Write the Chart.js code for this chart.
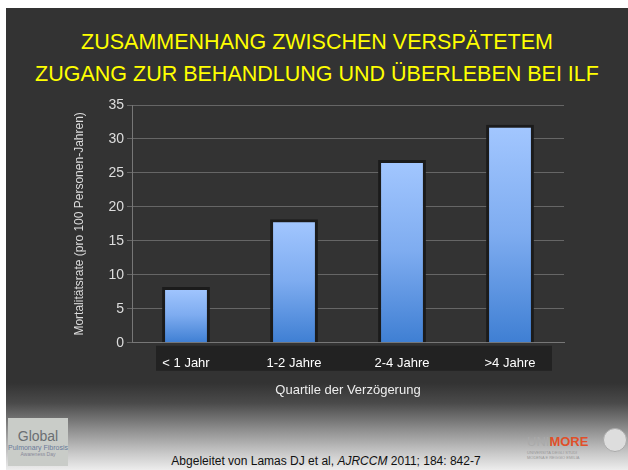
<!DOCTYPE html>
<html>
<head>
<meta charset="utf-8">
<script src="https://cdn.jsdelivr.net/npm/chart.js@4.4.1/dist/chart.umd.min.js"></script>
<style>
  html, body { margin: 0; padding: 0; background: #fff; }
  #slide {
    position: absolute; left: 6px; top: 8px; width: 622px; height: 462px; overflow: hidden;
    background: linear-gradient(to bottom, #333 0px, #333 375px, #4a4a4a 395px, #8a8a8a 420px, #c8c8c8 445px, #ededed 462px);
  }
  #title {
    position: absolute; left: 0; top: 18px; width: 622px; text-align: center;
    color: #ffff00; font-family: "Liberation Sans", Arial, sans-serif; font-size: 21.5px; line-height: 32px;
  }
  #chartBox { position: absolute; left: 0; top: 0; width: 628px; height: 470px; }
  #cite {
    position: absolute; left: 0; top: 446px; width: 640px; text-align: center;
    font-family: "Liberation Sans", Arial, sans-serif; font-size: 12px; color: #111;
  }
  #logoL {
    position: absolute; left: 2px; top: 410px; width: 60px; height: 48px;
    background: #c9ccc8; font-family: "Liberation Sans", Arial, sans-serif; text-align: center; color: #667;
  }
  #logoR { position: absolute; left: 521px; top: 424px; font-family: "Liberation Sans", Arial, sans-serif; }
</style>
</head>
<body>
<div id="slide">
  <div id="title">ZUSAMMENHANG ZWISCHEN VERSPÄTETEM<br>ZUGANG ZUR BEHANDLUNG UND ÜBERLEBEN BEI ILF</div>
  <div id="logoL">
    <div style="font-size:14px;margin-top:10px;color:#6b6f73">Global</div>
    <div style="font-size:7px;color:#6a7a99">Pulmonary Fibrosis</div>
    <div style="font-size:5px;color:#889">Awareness Day</div>
  </div>
  <div id="logoR">
    <span style="font-size:13px;color:#aaa">UNI</span><span style="font-size:13px;color:#e0502a;font-weight:bold">MORE</span>
    <div style="font-size:4px;color:#999;line-height:5px">UNIVERSITÀ DEGLI STUDI<br>MODENA E REGGIO EMILIA</div>
    <div style="position:absolute;left:76px;top:-4px;width:22px;height:22px;border-radius:50%;border:1px solid #aaa;background:#ddd"></div>
  </div>
  <div id="cite">Abgeleitet von Lamas DJ et al, <i>AJRCCM</i> 2011; 184: 842-7</div>
</div>
<div id="chartBox"><canvas id="chart" width="628" height="470"></canvas></div>
<script>
// Daten
const kategorien = ["< 1 Jahr", "1-2 Jahre", "2-4 Jahre", ">4 Jahre"];
const mortalitaet = [8.2, 18.2, 26.9, 32.1];
const yTicks = [0, 5, 10, 15, 20, 25, 30, 35];

const fontFam = "'Liberation Sans', Arial, sans-serif";

// dunkles Feld hinter den Kategorie-Beschriftungen
const labelBox = {
  id: "labelBox",
  beforeDraw(chart) {
    const x = chart.scales.x;
    const ctx = chart.ctx;
    const l = x.getPixelForValue(0) - 30;
    const r = x.getPixelForValue(kategorien.length - 1) + 42;
    ctx.save();
    ctx.fillStyle = "#222";
    ctx.fillRect(l, chart.chartArea.bottom + 3, r - l, 25);
    ctx.restore();
  }
};

function barGradient(context) {
  const chart = context.chart;
  if (!chart.chartArea) return "#6fa3ee";
  const y = chart.scales.y;
  const top = y.getPixelForValue(context.raw);
  const bottom = y.getPixelForValue(0);
  const g = chart.ctx.createLinearGradient(0, top, 0, bottom);
  g.addColorStop(0, "#a3c7ff");
  g.addColorStop(0.5, "#7eacf0");
  g.addColorStop(1, "#3f7fd3");
  return g;
}

new Chart(document.getElementById("chart"), {
  type: "bar",
  data: {
    labels: kategorien,
    datasets: [{
      data: mortalitaet,
      backgroundColor: barGradient,
      borderColor: "#1b1b1b",
      borderWidth: 3,
      barPercentage: 0.54,
      categoryPercentage: 0.82
    }]
  },
  plugins: [labelBox],
  options: {
    responsive: false,
    animation: false,
    devicePixelRatio: 1,
    layout: { padding: { left: 68, right: 64, top: 105, bottom: 68 } },
    plugins: { legend: { display: false }, tooltip: { enabled: false } },
    scales: {
      x: {
        grid: { display: false },
        border: { color: "#777", width: 1 },
        ticks: { color: "#fff", font: { family: fontFam, size: 13 }, padding: 5 },
        title: {
          display: true, text: "Quartile der Verzögerung", color: "#eee",
          font: { family: fontFam, size: 13 }, padding: { top: 6 }
        }
      },
      y: {
        min: 0, max: 35,
        afterBuildTicks(scale) { scale.ticks = yTicks.map(v => ({ value: v })); },
        afterFit(scale) { scale.width = 64; },
        grid: { color: "#666", tickLength: 5, tickColor: "#666" },
        border: { color: "#777" },
        ticks: { color: "#ddd", font: { family: fontFam, size: 14 }, padding: 3 },
        title: {
          display: true, text: "Mortalitätsrate (pro 100 Personen-Jahren)", color: "#ddd",
          font: { family: fontFam, size: 12 }, padding: { bottom: 2 }
        }
      }
    }
  }
});
</script>
</body>
</html>
